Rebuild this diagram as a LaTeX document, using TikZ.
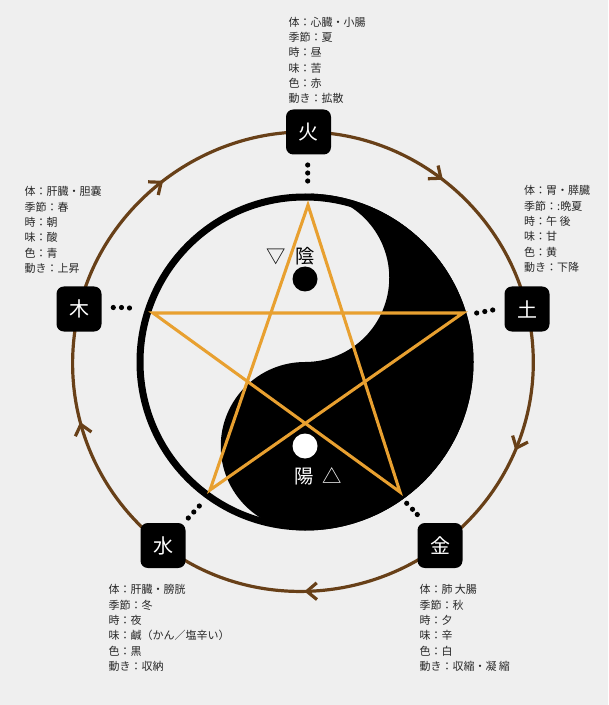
\documentclass[tikz,border=0pt]{standalone}
\usepackage{fontspec}
\setmainfont{Noto Sans CJK JP}
\usetikzlibrary{arrows.meta,decorations.markings,backgrounds}

\definecolor{bgGrey}{RGB}{239,239,239}
\definecolor{arcBrown}{RGB}{104,64,24}
\definecolor{starOrange}{RGB}{232,160,48}
\definecolor{infoGrey}{RGB}{40,40,40}

\tikzset{every picture/.style={line width=0.75pt}}
\tikzset{
  elembox/.style={fill=black, rounded corners=5.5pt, minimum size=33.75pt, inner sep=0pt, text=white, font=\fontsize{15}{15}\selectfont},
  infotext/.style={anchor=north west, inner sep=0.75pt, align=left, text=infoGrey, font=\fontsize{8.25}{11.5}\selectfont},
  yylabel/.style={inner sep=0.75pt, font=\fontsize{14.5}{14.5}\selectfont},
  flowarc/.style={draw=arcBrown, line width=2.4pt, looseness=0.94, postaction={decorate},
    decoration={markings, mark=at position #1 with {\arrow{Straight Barb[length=7.5pt,width=12.5pt]}}}}
}

\begin{document}
\begin{tikzpicture}[x=0.75pt,y=0.75pt,yscale=-1,xscale=1]
%set diagram left start at 0, and has height of 705
\useasboundingbox (0,0) rectangle (608,705);

%Shape: Yin-yang, black half [id:dp4418207351]
\fill [black] (305,193.5) arc[start angle=-90,end angle=90,radius=168.5] arc[start angle=90,end angle=270,radius=84.25] arc[start angle=90,end angle=-90,radius=84.25] -- cycle ;
%Shape: Circle, outer ring [id:dp7730521984]
\draw [line width=5.25pt] (305,362) circle (165) ;
%Shape: Circle, small eyes [id:dp1290674438]
\fill [black] (305,279) circle (12.5) ;
\fill [white] (305,446) circle (12.5) ;

%Shape: Star [id:dp5562018743]
\draw [starOrange, line width=2.3pt] (308,205) -- (400,492) -- (153,313) -- (463,313) -- (210,490) -- cycle ;

% Text Node
\node [yylabel] (yin) at (291,256) {▽\hspace{0.5em}陰};
% Text Node
\node [yylabel, text=white] (yang) at (318,476) {陽\hspace{0.45em}△};

% Element boxes
\node [elembox] (fire) at (308.5,132) {火};
\node [elembox] (earth) at (527,309) {土};
\node [elembox] (metal) at (440,545.5) {金};
\node [elembox] (water) at (163,545.5) {水};
\node [elembox] (wood) at (79,309) {木};

%Shape: Dots [id:dp9021375566]
\fill (307.7,165) circle (2.6) (307.7,173) circle (2.6) (307.7,181) circle (2.6) ;
\fill (113.3,307.5) circle (2.6) (121.5,307.5) circle (2.6) (129.5,308) circle (2.6) ;
\fill (476.7,313) circle (2.6) (484.8,311.5) circle (2.6) (492.7,310) circle (2.6) ;
\fill (188.3,518) circle (2.6) (193.8,512) circle (2.6) (199.3,506) circle (2.6) ;
\fill (406.7,503.3) circle (2.6) (412.5,509.3) circle (2.6) (417.3,514.5) circle (2.6) ;

% Text Node
\draw (287,15.5) node [infotext] (fireinfo) {体：心臓・小腸\\季節：夏\\時：昼\\味：苦\\色：赤\\動き：拡散};
% Text Node
\draw (23,185) node [infotext] (woodinfo) {体：肝臓・胆嚢\\季節：春\\時：朝\\味：酸\\色：青\\動き：上昇};
% Text Node
\draw (522.7,184) node [infotext] (earthinfo) {体：胃・膵臓\\季節：:晩夏\\時：午 後\\味：甘\\色：黄\\動き：下降};
% Text Node
\draw (107,583) node [infotext] (waterinfo) {体：肝臓・膀胱\\季節：冬\\時：夜\\味：鹹（かん／塩辛い）\\色：黒\\動き：収納};
% Text Node
\draw (418,583) node [infotext] (metalinfo) {体：肺 大腸\\季節：秋\\時：夕\\味：辛\\色：白\\動き：収縮・凝 縮};

% Generating cycle
\begin{scope}[on background layer]
\fill [bgGrey] (0,0) rectangle (608,705) ;
\draw [flowarc=0.48] (fire.center) to[out=1,in=-103.4] (earth.center) ;
\draw [flowarc=0.54] (earth.center) to[out=76.6,in=-36.6] (metal.center) ;
\draw [flowarc=0.49] (metal.center) to[out=143.4,in=37.6] (water.center) ;
\draw [flowarc=0.57] (water.center) to[out=-142.4,in=103.3] (wood.center) ;
\draw [flowarc=0.5] (wood.center) to[out=-76.7,in=181.1] (fire.center) ;
\end{scope}
\end{tikzpicture}
\end{document}
